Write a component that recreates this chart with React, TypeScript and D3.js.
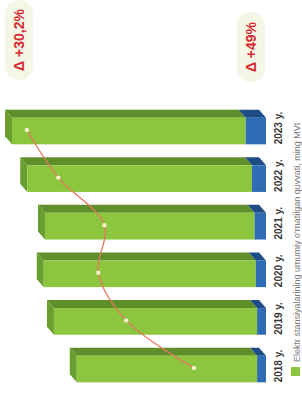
import React from "react";
import * as d3 from "d3";

const years = ["2018 y.", "2019 y.", "2020 y.", "2021 y.", "2022 y.", "2023 y."];
const greenValues = [14.2, 16.0, 16.7, 16.5, 17.7, 18.4];
const blueValues = [0.7, 0.7, 0.8, 0.9, 1.1, 1.6];
const lineValues = [63.6, 71.4, 74.6, 73.9, 79.2, 82.8];
const legendLabel = "Elektr stansiyalarining umumiy o'rnatilgan quvvati, ming MVt";
const badges = ["Δ +30,2%", "Δ +49%"];

const W = 394; // original (unrotated) width

export default function App() {
  const x = d3.scaleBand<string>().domain(years).range([1.2, 286.8]).paddingInner(0.44).paddingOuter(0.22);
  const y = d3.scaleLinear().domain([0, 20]).range([266, 12]);
  const yl = d3.scaleLinear().domain([60, 85]).range([225.3, 7.8]);
  const bw = x.bandwidth();
  const du = 8, dv = -7;

  const colors = {
    gFront: "#8cc63f",
    gSide: "#5f8f2b",
    gTop: "#6a9e30",
    bFront: "#2e6db4",
    bSide: "#1d4c86",
  };

  const poly = (pts: [number, number][]) => pts.map((p) => p.join(",")).join(" ");

  const linePts: [number, number][] = years.map((yr, i) => [
    (x(yr) as number) + bw / 2 + 1,
    yl(lineValues[i]),
  ]);
  const lineGen = d3.line<[number, number]>().curve(d3.curveCatmullRom.alpha(0.5));

  return (
    <svg
      width={302}
      height={394}
      style={{ position: "absolute", left: 0, top: 0, display: "block", background: "#fff" }}
    >
      <g transform={`translate(0,${W}) rotate(-90)`}>
        {years.map((yr, i) => {
          const u0 = x(yr) as number;
          const u1 = u0 + bw;
          const vBase = y(0);
          const vBlue = y(blueValues[i]);
          const vTop = y(blueValues[i] + greenValues[i]);
          return (
            <g key={yr}>
              <polygon
                points={poly([
                  [u1, vTop],
                  [u1 + du, vTop + dv],
                  [u1 + du, vBlue + dv],
                  [u1, vBlue],
                ])}
                fill={colors.gSide}
              />
              <polygon
                points={poly([
                  [u1, vBlue],
                  [u1 + du, vBlue + dv],
                  [u1 + du, vBase + dv],
                  [u1, vBase],
                ])}
                fill={colors.bSide}
              />
              <polygon
                points={poly([
                  [u0, vTop],
                  [u0 + du, vTop + dv],
                  [u1 + du, vTop + dv],
                  [u1, vTop],
                ])}
                fill={colors.gTop}
              />
              <rect x={u0} y={vTop} width={bw} height={vBlue - vTop} fill={colors.gFront} />
              <rect x={u0} y={vBlue} width={bw} height={vBase - vBlue} fill={colors.bFront} />
              <text
                x={u0 + bw / 2 + 3}
                y={282}
                textAnchor="middle"
                fontFamily="'Liberation Sans', Arial, sans-serif"
                fontSize={10}
                fontWeight="bold"
                fill="#3a3a3a"
              >
                {yr}
              </text>
            </g>
          );
        })}

        <path d={lineGen(linePts) || ""} fill="none" stroke="#e8775d" strokeWidth={1.3} />
        {linePts.map((p, i) => (
          <circle key={i} cx={p[0]} cy={p[1]} r={2.2} fill="#f6f1c9" />
        ))}

        <rect x={18} y={291} width={9} height={9} fill={colors.gFront} />
        <text
          x={32}
          y={299.5}
          fontFamily="'Liberation Sans', Arial, sans-serif"
          fontSize={9}
          fill="#7a7a7a"
        >
          {legendLabel}
        </text>

        {[
          { u: 354, v: 19, len: 80 },
          { u: 347, v: 251, len: 70 },
        ].map((b, i) => (
          <g key={i}>
            <rect
              x={b.u - b.len / 2}
              y={b.v - 14}
              width={b.len}
              height={28}
              rx={14}
              fill="#f4f6e6"
            />
            <text
              x={b.u}
              y={b.v}
              textAnchor="middle"
              dominantBaseline="central"
              fontFamily="'Liberation Sans', Arial, sans-serif"
              fontSize={14}
              fontWeight="bold"
              fill="#d42a33"
            >
              {badges[i]}
            </text>
          </g>
        ))}
      </g>
    </svg>
  );
}
